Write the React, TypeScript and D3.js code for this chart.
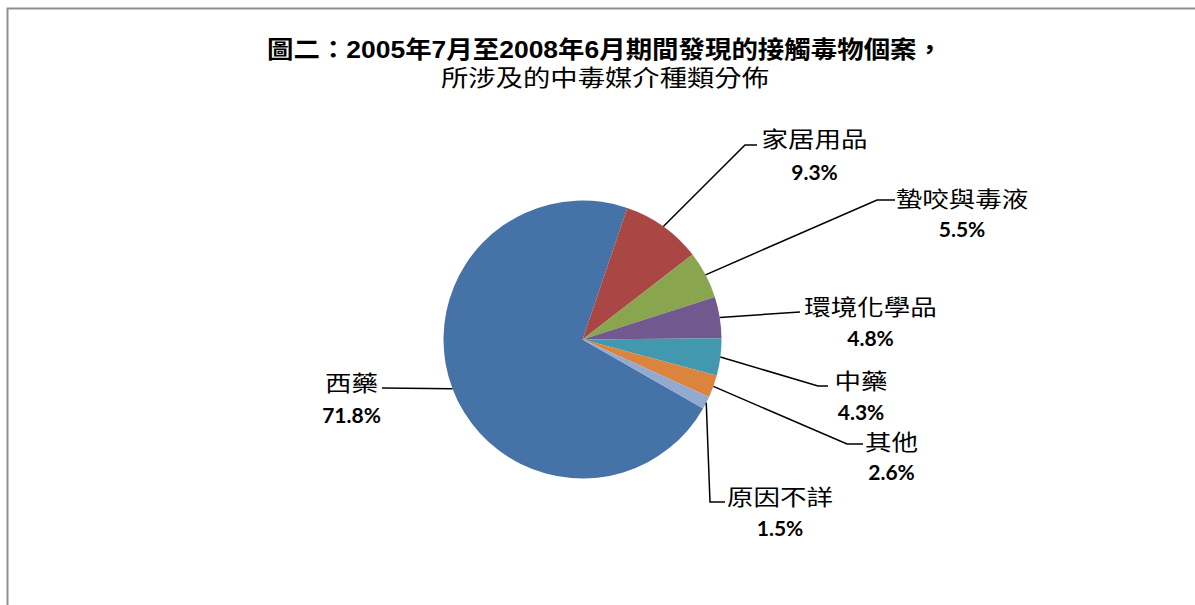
import React from "react";
import * as d3 from "d3";

const categories = ["西藥", "家居用品", "蟄咬與毒液", "環境化學品", "中藥", "其他", "原因不詳"];
const values = [71.8, 9.3, 5.5, 4.8, 4.3, 2.6, 1.5];
const colors = ["#4572A7", "#AA4643", "#89A54E", "#71588F", "#4198AF", "#DB843D", "#93A9CF"];
const titleLines = ["圖二：2005年7月至2008年6月期間發現的接觸毒物個案，", "所涉及的中毒媒介種類分佈"];

// label layout: [labelCenterX, nameBaseline, pctBaseline, elbowX, elbowY, endX, endY]
const labelLayout = [
  [351.5, 391, 423, 382, 388, 382, 388],
  [814.5, 147, 180, 745, 145, 757, 145],
  [962, 206.5, 237, 877, 200, 895, 200],
  [870.5, 314.5, 346, 800, 312, 800, 312],
  [861, 388.5, 420, 818, 386, 828, 386],
  [891.5, 450, 480, 847, 444, 863, 444],
  [780, 504.5, 536, 710, 502, 725, 502],
];

const W = 1195;
const H = 605;
const cx = 582.5;
const cy = 339.5;
const R = 139;
const deg = Math.PI / 180;
const total = d3.sum(values);
const secondStart = 18.8 * deg;
const start = secondStart - (values[0] / total) * 2 * Math.PI;

export default function App() {
  const pie = d3
    .pie<number>()
    .sort(null)
    .value((d) => d)
    .startAngle(start)
    .endAngle(start + 2 * Math.PI);
  const arcs = pie(values);
  const arc = d3.arc<d3.PieArcDatum<number>>().innerRadius(0).outerRadius(R);
  const cjk = "'Noto Sans CJK TC', 'Noto Sans CJK SC', sans-serif";
  const num = "Lato, 'Liberation Sans', sans-serif";
  const titleFont1 = "'Liberation Sans', 'Noto Sans CJK TC', sans-serif";
  const titleFont2 = "'Liberation Sans', 'Noto Sans CJK TC', sans-serif";

  return (
    <svg
      width={W}
      height={H}
      style={{ position: "fixed", left: 0, top: 0, background: "#fff" }}
    >
      <rect x={0} y={0} width={W} height={H} fill="#ffffff" />
      <rect x={7.5} y={8.5} width={W + 20} height={H + 20} fill="none" stroke="#8f8f8f" strokeWidth={2} />
      <text
        x={267}
        y={58}
        fontFamily={titleFont1}
        fontWeight={700}
        fontSize={24}
        textLength={676}
        lengthAdjust="spacingAndGlyphs"
        fill="#000"
      >
        {titleLines[0]}
      </text>
      <text
        x={441}
        y={86}
        fontFamily={titleFont2}
        fontWeight={400}
        fontSize={23}
        textLength={328}
        lengthAdjust="spacingAndGlyphs"
        fill="#000"
      >
        {titleLines[1]}
      </text>
      <g transform={`translate(${cx},${cy})`}>
        {arcs.map((a, i) => (
          <path key={i} d={arc(a) || ""} fill={colors[i]} />
        ))}
      </g>
      {arcs.map((a, i) => {
        const mid = (a.startAngle + a.endAngle) / 2;
        const sx = cx + R * Math.sin(mid);
        const sy = cy - R * Math.cos(mid);
        const L = labelLayout[i];
        const path = d3.path();
        path.moveTo(sx, sy);
        path.lineTo(L[3], L[4]);
        path.lineTo(L[5], L[6]);
        const n = categories[i].length;
        return (
          <g key={"l" + i}>
            <path d={path.toString()} fill="none" stroke="#000" strokeWidth={1.5} />
            <text
              x={L[0]}
              y={L[1]}
              textAnchor="middle"
              fontFamily={cjk}
              fontSize={22}
              textLength={n * 26.5}
              lengthAdjust="spacingAndGlyphs"
              fill="#000"
            >
              {categories[i]}
            </text>
            <text
              x={L[0]}
              y={L[2]}
              textAnchor="middle"
              fontFamily={num}
              fontWeight={700}
              fontSize={21}
              fill="#000"
            >
              {values[i].toFixed(1) + "%"}
            </text>
          </g>
        );
      })}
    </svg>
  );
}
